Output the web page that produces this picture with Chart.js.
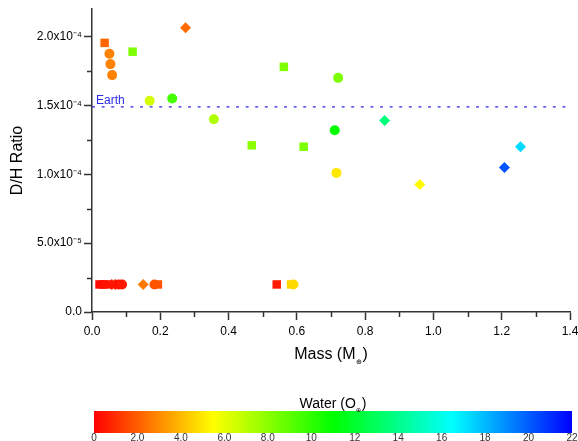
<!DOCTYPE html>
<html>
<head>
<meta charset="utf-8">
<script src="https://cdn.jsdelivr.net/npm/chart.js@4/dist/chart.umd.min.js"></script>
<style>
body { margin: 0; background: #fff; width: 578px; height: 441px; overflow: hidden; position: relative; }
#dh { position: absolute; left: 0; top: 0; }
#scale { position: absolute; left: 0; top: 390px; }
</style>
</head>
<body>
<canvas id="dh" width="578" height="370"></canvas>
<canvas id="scale" width="578" height="51"></canvas>
<script>
// planets drawn as circles
const circleMass  = [0.051, 0.054, 0.059, 0.169, 0.235, 0.357, 0.721, 0.711, 0.716, 0.078, 0.088, 0.183, 0.590];
const circleDH    = [1.875e-4, 1.80e-4, 1.72e-4, 1.534e-4, 1.55e-4, 1.40e-4, 1.70e-4, 1.32e-4, 1.01e-4, 2.0e-5, 2.0e-5, 2.0e-5, 2.0e-5];
const circleWater = [2.8, 2.8, 2.8, 6.4, 9.5, 7.2, 8.3, 11.0, 5.0, 0.4, 0.5, 1.8, 4.7];

// planets drawn as squares
const squareMass  = [0.037, 0.119, 0.468, 0.562, 0.620, 0.022, 0.033, 0.043, 0.193, 0.541, 0.583];
const squareDH    = [1.954e-4, 1.89e-4, 1.21e-4, 1.78e-4, 1.20e-4, 2.0e-5, 2.0e-5, 2.0e-5, 2.0e-5, 2.0e-5, 2.0e-5];
const squareWater = [2.2, 8.3, 8.0, 8.3, 8.3, 0.2, 0.3, 0.4, 1.8, 0.6, 4.6];

// planets drawn as diamonds
const diamondMass  = [0.274, 0.857, 0.960, 1.208, 1.255, 0.058, 0.068, 0.150];
const diamondDH    = [2.063e-4, 1.39e-4, 0.925e-4, 1.05e-4, 1.20e-4, 2.0e-5, 2.0e-5, 2.0e-5];
const diamondWater = [2.3, 13.7, 5.4, 20.2, 17.3, 0.4, 0.5, 2.6];

const earthDH = 1.49e-4;
const yTicks = [0, 0.5e-4, 1.0e-4, 1.5e-4, 2.0e-4];
const yTickLabels = ['0.0', '5.0x10⁻⁵', '1.0x10⁻⁴', '1.5x10⁻⁴', '2.0x10⁻⁴'];
const waterMax = 22;

const FONT = 'Arial, "Liberation Sans", sans-serif';

// red -> yellow -> green -> cyan -> blue over 0..22
function waterColor(w) {
  return 'hsl(' + (240 * w / waterMax).toFixed(1) + ', 100%, 50%)';
}

function points(xs, ys) {
  return xs.map((x, i) => ({ x: x, y: ys[i] }));
}

function drawSub(ctx, cx, cy, pre, sub, post, size) {
  ctx.save();
  ctx.fillStyle = '#000';
  ctx.textBaseline = 'middle';
  ctx.textAlign = 'left';
  const big = size + 'px ' + FONT;
  const small = Math.round(size * 0.45) + 'px ' + FONT;
  ctx.font = big;
  const w1 = ctx.measureText(pre).width;
  const w3 = ctx.measureText(post).width;
  ctx.font = small;
  const w2 = ctx.measureText(sub).width + 1;
  let x = cx - (w1 + w2 + w3) / 2;
  ctx.font = big;
  ctx.fillText(pre, x, cy);
  ctx.font = small;
  ctx.fillText(sub, x + w1, cy + size * 0.45);
  ctx.font = big;
  ctx.fillText(post, x + w1 + w2, cy);
  ctx.restore();
}

const extras = {
  id: 'extras',
  afterDraw(chart) {
    const ctx = chart.ctx;
    const xs = chart.scales.x, ys = chart.scales.y;
    const area = chart.chartArea;
    ctx.save();
    ctx.strokeStyle = '#333';
    ctx.lineWidth = 1.5;
    ctx.beginPath();
    for (let v = 0.25e-4; v < 2.2e-4; v += 0.5e-4) {
      const p = Math.round(ys.getPixelForValue(v)) + 0.5;
      ctx.moveTo(area.left - 5, p);
      ctx.lineTo(area.left, p);
    }
    for (let v = 0.1; v < 1.4; v += 0.2) {
      const p = Math.round(xs.getPixelForValue(v)) + 0.5;
      ctx.moveTo(p, area.bottom);
      ctx.lineTo(p, area.bottom + 5);
    }
    ctx.stroke();
    ctx.fillStyle = '#2b2be8';
    ctx.font = '12px ' + FONT;
    ctx.textBaseline = 'alphabetic';
    ctx.fillText('Earth', area.left + 4, ys.getPixelForValue(earthDH) - 3);
    ctx.restore();
    drawSub(ctx, (area.left + area.right) / 2, 355, 'Mass (M', '⊕', ')', 16);
  }
};

new Chart(document.getElementById('dh'), {
  type: 'scatter',
  data: {
    datasets: [
      {
        type: 'line',
        data: [{ x: 0, y: earthDH }, { x: 1.4, y: earthDH }],
        borderColor: '#2b2be8',
        borderWidth: 1.3,
        borderDash: [3, 6.6],
        pointRadius: 0,
        fill: false,
      },
      {
        data: points(circleMass, circleDH),
        pointStyle: 'circle',
        pointRadius: 5,
        borderWidth: 0,
        backgroundColor: circleWater.map(waterColor),
        borderColor: circleWater.map(waterColor),
      },
      {
        data: points(squareMass, squareDH),
        pointStyle: 'rect',
        pointRadius: 6,
        borderWidth: 0,
        backgroundColor: squareWater.map(waterColor),
        borderColor: squareWater.map(waterColor),
      },
      {
        data: points(diamondMass, diamondDH),
        pointStyle: 'rectRot',
        pointRadius: 5.5,
        borderWidth: 0,
        backgroundColor: diamondWater.map(waterColor),
        borderColor: diamondWater.map(waterColor),
      },
    ],
  },
  options: {
    responsive: false,
    animation: false,
    layout: { padding: { left: 0, right: 8, top: 9, bottom: 0 } },
    plugins: { legend: { display: false }, tooltip: { enabled: false } },
    scales: {
      x: {
        type: 'linear',
        min: 0,
        max: 1.4,
        grid: { drawOnChartArea: false, tickLength: 8, tickColor: '#333', tickWidth: 1.5 },
        border: { color: '#333', width: 1.5 },
        ticks: {
          stepSize: 0.2,
          padding: 4,
          color: '#000',
          font: { family: FONT, size: 12 },
          callback: (v) => v.toFixed(1),
        },
        afterFit(scale) {
          scale.height = 58;
          scale.paddingLeft = 0;
          scale.paddingRight = 0;
        },
      },
      y: {
        type: 'linear',
        min: 0,
        max: 2.2e-4,
        grid: { drawOnChartArea: false, tickLength: 8, tickColor: '#333', tickWidth: 1.5 },
        border: { color: '#333', width: 1.5 },
        afterBuildTicks(scale) {
          scale.ticks = yTicks.map((v) => ({ value: v }));
        },
        ticks: {
          padding: 2,
          color: '#000',
          font: { family: FONT, size: 12 },
          callback: (v) => yTickLabels[yTicks.findIndex((t) => Math.abs(t - v) < 1e-9)],
        },
        title: {
          display: true,
          text: 'D/H Ratio',
          color: '#000',
          font: { family: FONT, size: 16 },
          padding: { top: 8, bottom: 0 },
        },
        afterFit(scale) {
          scale.width = 92;
          scale.paddingTop = 0;
          scale.paddingBottom = 0;
        },
      },
    },
  },
  plugins: [extras],
});

// colour scale for water content
const scaleTitle = {
  id: 'scaleTitle',
  afterDraw(chart) {
    const a = chart.chartArea;
    drawSub(chart.ctx, (a.left + a.right) / 2, a.top - 7, 'Water (O', '⊕', ')', 14);
  }
};

new Chart(document.getElementById('scale'), {
  type: 'bar',
  data: {
    labels: ['water'],
    datasets: [{
      data: [[0, waterMax]],
      barPercentage: 1,
      categoryPercentage: 1,
      backgroundColor(c) {
        const a = c.chart.chartArea;
        if (!a) return '#f00';
        const g = c.chart.ctx.createLinearGradient(a.left, 0, a.right, 0);
        [0, 0.25, 0.5, 0.75, 1].forEach((s) => g.addColorStop(s, waterColor(s * waterMax)));
        return g;
      },
    }],
  },
  options: {
    indexAxis: 'y',
    responsive: false,
    animation: false,
    layout: { padding: { left: 94, right: 6, top: 21, bottom: 0 } },
    plugins: { legend: { display: false }, tooltip: { enabled: false } },
    scales: {
      y: { display: false },
      x: {
        type: 'linear',
        min: 0,
        max: waterMax,
        grid: { display: false, drawTicks: false, tickLength: 0 },
        border: { display: false },
        ticks: {
          stepSize: 2,
          padding: -1,
          color: '#333',
          font: { family: FONT, size: 10 },
          callback: (v) => (v === 0 ? '0' : v < 10 ? v.toFixed(1) : String(v)),
        },
        afterFit(scale) {
          scale.height = 8;
          scale.paddingLeft = 0;
          scale.paddingRight = 0;
        },
      },
    },
  },
  plugins: [scaleTitle],
});
</script>
</body>
</html>
